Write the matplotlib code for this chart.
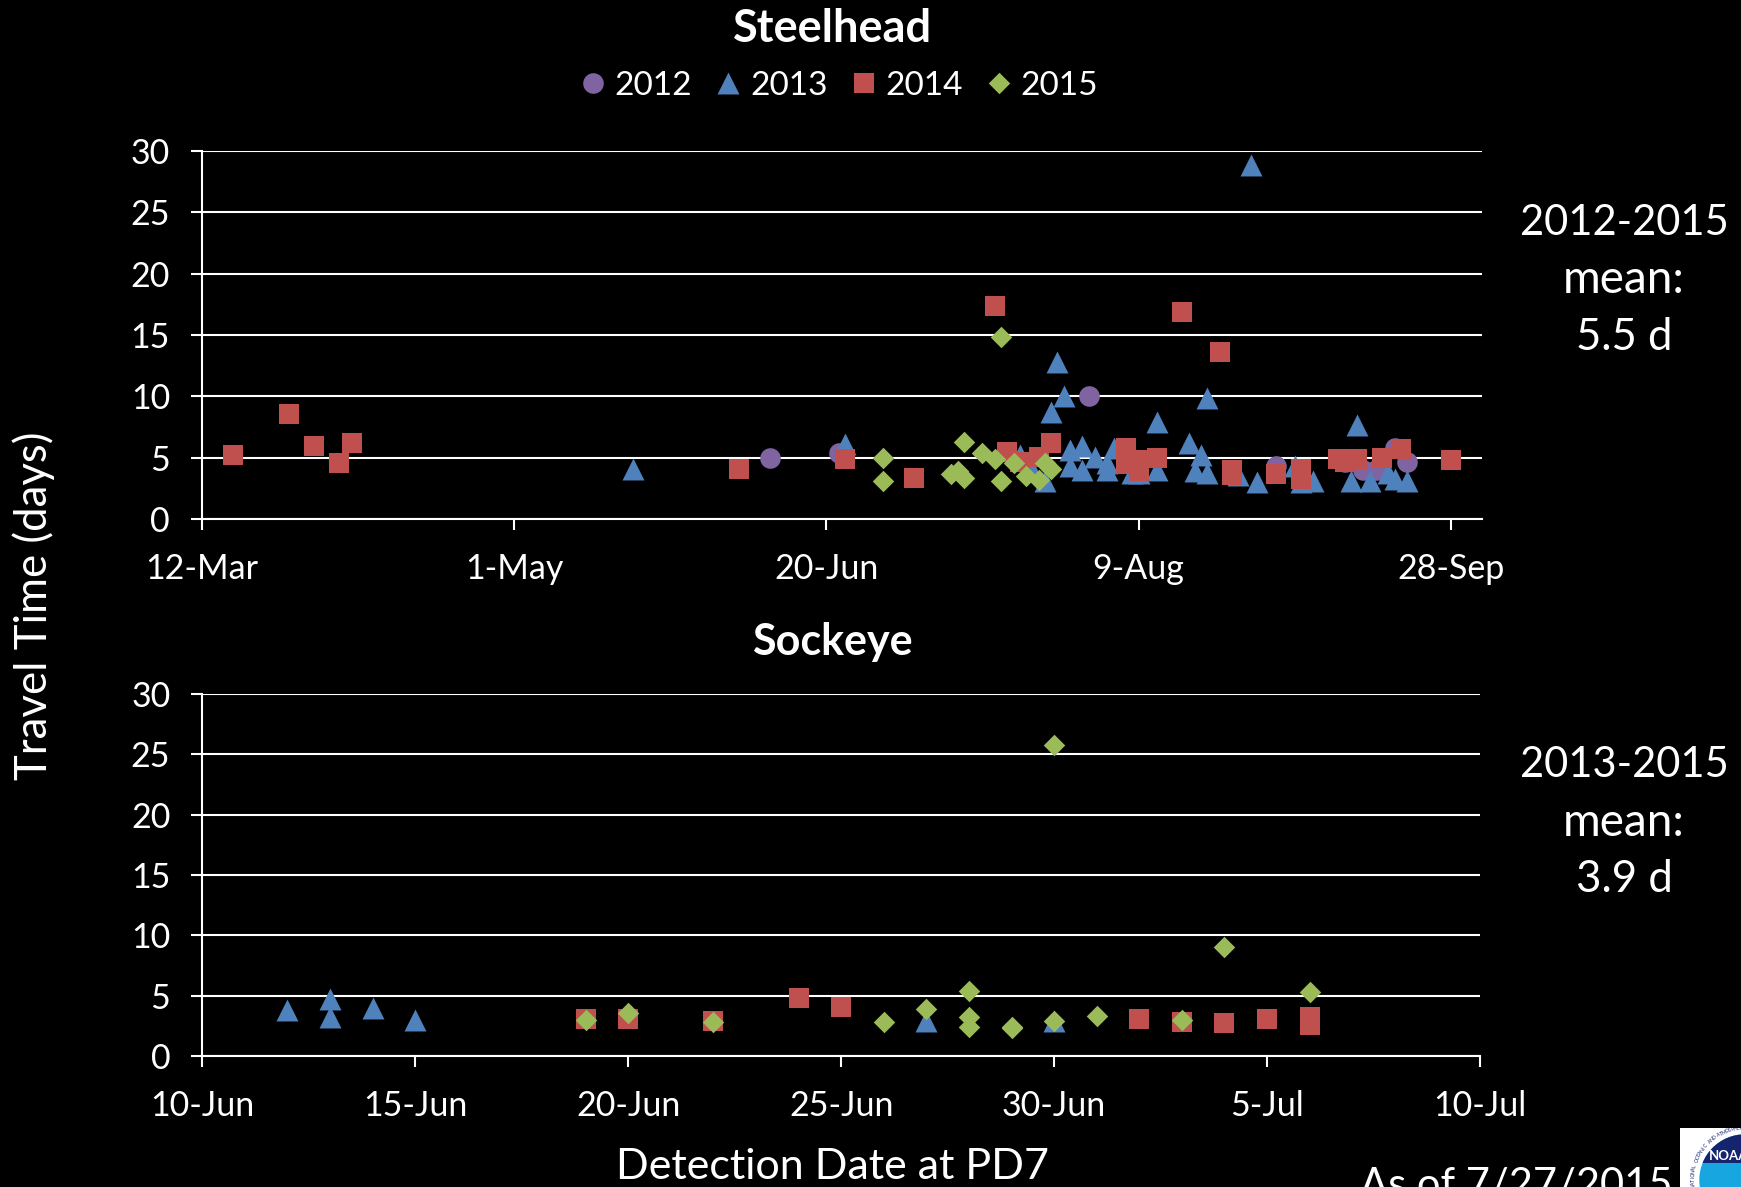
import matplotlib
matplotlib.use("Agg")
import matplotlib.pyplot as plt
import numpy as np
from matplotlib.patches import Circle, Rectangle

W, H = 1741, 1187

# steelhead: days since 12-Mar, travel time (days)
sh_2012_day = [91, 102, 142, 172, 183, 186, 188, 191, 193]
sh_2012_val = [5.0, 5.4, 10.0, 4.3, 4.7, 4.0, 4.0, 5.8, 4.7]
sh_2013_day = [69, 103, 131, 133, 135, 136, 137, 138, 139, 139, 141, 141, 143, 145, 145, 146, 149, 150,
               153, 153, 158, 159, 160, 161, 161, 166, 168, 169, 175, 176, 178, 184, 185, 187, 190, 191, 193]
sh_2013_val = [4.1, 6.1, 5.2, 4.0, 3.1, 8.7, 12.8, 10.0, 5.6, 4.3, 6.0, 4.0, 5.1, 4.6, 4.0, 5.8, 3.8, 3.8,
               7.9, 4.0, 6.2, 3.9, 5.2, 9.9, 3.8, 3.6, 28.8, 3.0, 4.3, 3.0, 3.1, 3.1, 7.7, 3.1, 3.8, 3.3, 3.1]
sh_2014_day = [5, 14, 18, 22, 24, 86, 103, 114, 127, 129, 131, 134, 136, 148, 148, 150, 150, 153, 157, 163,
               165, 165, 172, 176, 176, 182, 183, 185, 189, 192, 200]
sh_2014_val = [5.2, 8.6, 6.0, 4.6, 6.2, 4.1, 4.9, 3.4, 17.4, 5.5, 4.7, 5.1, 6.2, 5.8, 4.5, 4.8, 3.9, 5.0, 16.9, 13.6,
               4.0, 3.6, 3.7, 4.1, 3.3, 4.9, 4.7, 4.9, 5.0, 5.7, 4.8]
sh_2015_day = [109, 109, 120, 121, 122, 122, 125, 127, 128, 128, 130, 132, 134, 135, 136]
sh_2015_val = [5.0, 3.1, 3.7, 3.9, 6.3, 3.4, 5.4, 4.9, 14.8, 3.1, 4.6, 3.5, 3.2, 4.6, 4.1]

# sockeye: days since 10-Jun, travel time (days)
so_2013_day = [2, 3, 3, 4, 5, 17, 20]
so_2013_val = [3.8, 4.7, 3.2, 4.0, 3.0, 2.9, 2.9]
so_2014_day = [9, 10, 12, 14, 15, 22, 23, 24, 25, 26, 26]
so_2014_val = [3.1, 3.1, 2.9, 4.8, 4.1, 3.1, 2.8, 2.7, 3.1, 3.2, 2.6]
so_2015_day = [9, 10, 12, 16, 17, 18, 18, 18, 19, 19, 20, 20, 21, 23, 24, 26]
so_2015_val = [3.0, 3.6, 2.8, 2.8, 3.9, 5.4, 3.2, 2.4, 2.3, 2.4, 25.8, 2.9, 3.3, 3.0, 9.0, 5.3]

sh_ticks = [0, 50, 100, 150, 200]
sh_labels = ["12-Mar", "1-May", "20-Jun", "9-Aug", "28-Sep"]
so_ticks = [0, 5, 10, 15, 20, 25, 30]
so_labels = ["10-Jun", "15-Jun", "20-Jun", "25-Jun", "30-Jun", "5-Jul", "10-Jul"]
y_ticks = [0, 5, 10, 15, 20, 25, 30]

PURPLE = "#8064A2"
BLUE = "#4F81BD"
RED = "#C0504D"
GREEN = "#9BBB59"

plt.rcParams["font.family"] = ["Lato", "DejaVu Sans"]
plt.rcParams["text.color"] = "white"


def make_axes(fig, left, right, top, bottom):
    return fig.add_axes([left / W, 1 - bottom / H, (right - left) / W, (bottom - top) / H])


def style_axes(ax, xmax, ticks, labels):
    ax.set_facecolor("black")
    ax.set_xlim(0, xmax)
    ax.set_ylim(0, 30)
    ax.set_xticks(ticks)
    ax.set_xticklabels(labels)
    ax.set_yticks(y_ticks)
    ax.set_axisbelow(True)
    ax.grid(axis="y", color="white", linewidth=1.5)
    ax.tick_params(colors="white", labelsize=24.5, width=1.5, length=8, pad=15)
    ax.tick_params(axis="x", pad=16.5)
    for side in ["top", "right"]:
        ax.spines[side].set_visible(False)
    for side in ["left", "bottom"]:
        ax.spines[side].set_color("white")
        ax.spines[side].set_linewidth(1.5)


def px_text(fig, x, y, s, **kw):
    fig.text(x / W, 1 - y / H, s, ha="center", va="center", **kw)


fig = plt.figure(figsize=(W / 100, H / 100), dpi=100, facecolor="black")

# top panel
ax1 = make_axes(fig, 202, 1482, 150.7, 519.3)
h12 = ax1.scatter(sh_2012_day, sh_2012_val, marker="o", s=220, color=PURPLE, linewidths=0, clip_on=False, label="2012")
h13 = ax1.scatter(sh_2013_day, sh_2013_val, marker="^", s=250, color=BLUE, linewidths=0, clip_on=False, label="2013")
h14 = ax1.scatter(sh_2014_day, sh_2014_val, marker="s", s=215, color=RED, linewidths=0, clip_on=False, label="2014")
h15 = ax1.scatter(sh_2015_day, sh_2015_val, marker="D", s=120, color=GREEN, linewidths=0, clip_on=False, label="2015")
style_axes(ax1, 205, sh_ticks, sh_labels)

# bottom panel
ax2 = make_axes(fig, 202.3, 1480, 694, 1056)
ax2.scatter(so_2013_day, so_2013_val, marker="^", s=250, color=BLUE, linewidths=0, clip_on=False)
ax2.scatter(so_2014_day, so_2014_val, marker="s", s=215, color=RED, linewidths=0, clip_on=False)
ax2.scatter(so_2015_day, so_2015_val, marker="D", s=120, color=GREEN, linewidths=0, clip_on=False)
style_axes(ax2, 30, so_ticks, so_labels)

fig.legend(handles=[h12, h13, h14, h15], ncols=4, loc="center", bbox_to_anchor=(838 / W, 1 - 86 / H),
           frameon=False, fontsize=24, handlelength=0.9, handletextpad=0.2, columnspacing=0.63,
           scatteryoffsets=[0.5], labelcolor="white")

px_text(fig, 833, 29, "Steelhead", fontsize=32.5, fontweight="bold")
px_text(fig, 832, 642, "Sockeye", fontsize=31, fontweight="bold")
px_text(fig, 34, 606, "Travel Time (days)", fontsize=31.5, rotation=90)
px_text(fig, 833, 1167, "Detection Date at PD7", fontsize=31)
px_text(fig, 1624, 223, "2012-2015", fontsize=30)
px_text(fig, 1624, 280, "mean:", fontsize=33)
px_text(fig, 1624, 338, "5.5 d", fontsize=31.5)
px_text(fig, 1624, 765, "2013-2015", fontsize=30)
px_text(fig, 1624, 823, "mean:", fontsize=33)
px_text(fig, 1624, 880, "3.9 d", fontsize=31.5)
px_text(fig, 1516, 1185, "As of 7/27/2015", fontsize=30)

# NOAA logo, cut off by the corner of the slide
logo = fig.add_axes([1680 / W, 0, 61 / W, 59 / H])
logo.set_xlim(1680, 1741)
logo.set_ylim(1187, 1128)
logo.axis("off")
logo.add_patch(Rectangle((1680, 1128), 61, 59, color="white"))
logo.add_patch(Circle((1745, 1180), 45, color="#18A6E0"))
navy = Circle((1745, 1180), 45, color="#14246E")
logo.add_patch(navy)
navy.set_clip_path(Rectangle((1680, 1128), 61, 35, transform=logo.transData))
logo.text(1709, 1156, "NOAA", color="white", fontsize=9.5, fontweight="bold", ha="left", va="center")
ring_text = "NATIONAL OCEANIC AND ATMOSPHERIC"
for ch, ang in zip(ring_text, np.linspace(187, 88, len(ring_text))):
    a = np.radians(ang)
    logo.text(1745 + 52 * np.cos(a), 1180 - 52 * np.sin(a), ch, color="#14246E", fontsize=3.6,
              rotation=ang - 90, ha="center", va="center", clip_on=True)

fig.savefig("out.png", dpi=100, facecolor="black")
